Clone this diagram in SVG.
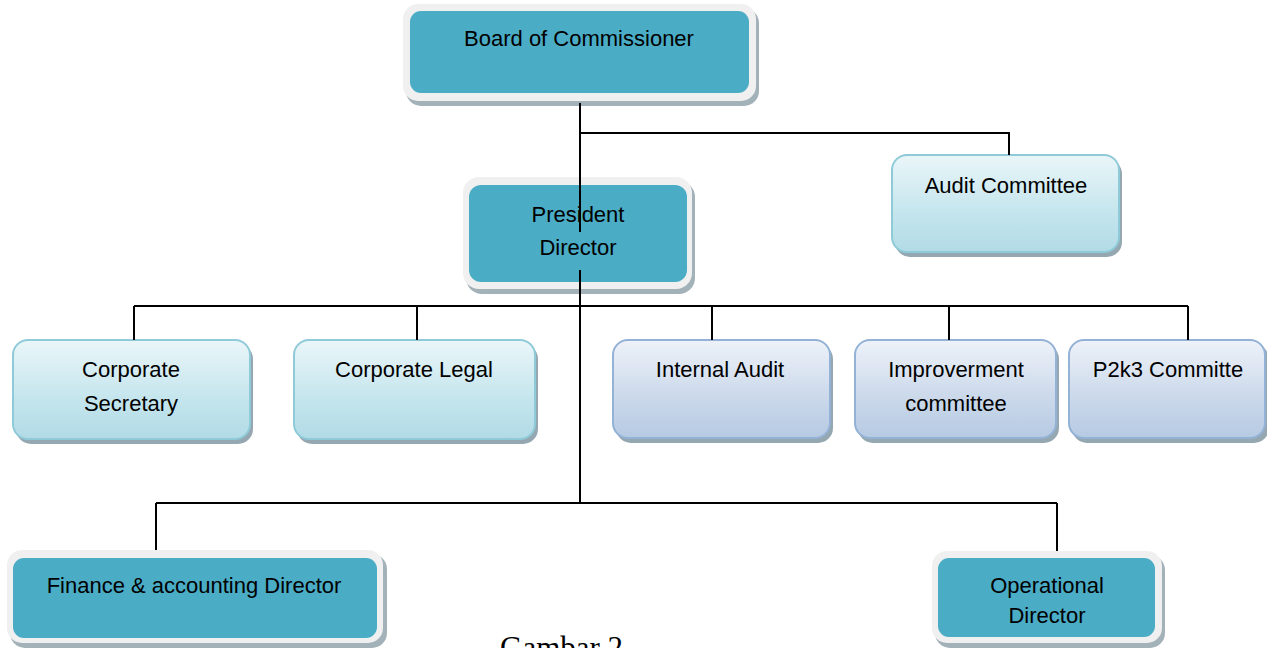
<svg xmlns="http://www.w3.org/2000/svg" width="1267" height="648" viewBox="0 0 1267 648">
<defs>
<linearGradient id="gAqua" x1="0" y1="0" x2="0" y2="1">
<stop offset="0" stop-color="#eaf6f9"/>
<stop offset="0.6" stop-color="#c4e5ed"/>
<stop offset="1" stop-color="#b2dbe6"/>
</linearGradient>
<linearGradient id="gBlue" x1="0" y1="0" x2="0" y2="1">
<stop offset="0" stop-color="#eef2f9"/>
<stop offset="0.6" stop-color="#cad8ea"/>
<stop offset="1" stop-color="#b6cae3"/>
</linearGradient>
</defs>
<style>
.shadow{fill:#a3b1b8}
.frame{fill:#f0f0f0}
.teal{fill:#4bacc6}
.aqua{fill:url(#gAqua);stroke:#8fcad9;stroke-width:2}
.blue{fill:url(#gBlue);stroke:#94b2d6;stroke-width:2}
.lshadow{fill:#95a7b0}
.t{font-family:"Liberation Sans",Arial,sans-serif;font-size:22px;fill:#000;text-anchor:middle}
.conn{fill:none;stroke:#000;stroke-width:2}
</style>
<rect width="1267" height="648" fill="#fff"/>

<g id="board">
<rect class="shadow" x="406" y="8" width="353" height="98" rx="15"/>
<rect class="frame" x="403" y="4" width="353" height="97" rx="15"/>
<rect class="teal" x="410" y="11" width="339" height="82" rx="11"/>
<text class="t" x="579" y="46">Board of Commissioner</text>
</g>

<g id="president">
<rect class="shadow" x="466" y="181" width="229" height="113" rx="16"/>
<rect class="frame" x="463" y="177" width="229" height="112" rx="16"/>
<rect class="teal" x="469" y="185" width="218" height="97" rx="12"/>
<text class="t" x="578" y="222">President</text>
<text class="t" x="578" y="255">Director</text>
</g>

<g id="audit-committee">
<rect class="lshadow" x="895" y="159" width="227" height="98" rx="15"/>
<rect class="aqua" x="892" y="155" width="227" height="97" rx="15"/>
<text class="t" x="1006" y="193">Audit Committee</text>
</g>

<g id="corporate-secretary">
<rect class="lshadow" x="16" y="344" width="237" height="100" rx="15"/>
<rect class="aqua" x="13" y="340" width="237" height="99" rx="15"/>
<text class="t" x="131" y="377">Corporate</text>
<text class="t" x="131" y="411">Secretary</text>
</g>

<g id="corporate-legal">
<rect class="lshadow" x="297" y="344" width="241" height="100" rx="15"/>
<rect class="aqua" x="294" y="340" width="241" height="99" rx="15"/>
<text class="t" x="414" y="377">Corporate Legal</text>
</g>

<g id="internal-audit">
<rect class="lshadow" x="616" y="344" width="217" height="99" rx="15"/>
<rect class="blue" x="613" y="340" width="217" height="98" rx="15"/>
<text class="t" x="720" y="377">Internal Audit</text>
</g>

<g id="improverment-committee">
<rect class="lshadow" x="858" y="344" width="201" height="99" rx="15"/>
<rect class="blue" x="855" y="340" width="201" height="98" rx="15"/>
<text class="t" x="956" y="377">Improverment</text>
<text class="t" x="956" y="411">committee</text>
</g>

<g id="p2k3-committe">
<rect class="lshadow" x="1072" y="344" width="197" height="99" rx="15"/>
<rect class="blue" x="1069" y="340" width="196" height="98" rx="15"/>
<text class="t" x="1168" y="377">P2k3 Committe</text>
</g>

<g id="finance-director">
<rect class="shadow" x="10" y="554" width="377" height="94" rx="15"/>
<rect class="frame" x="7" y="550" width="376" height="93" rx="15"/>
<rect class="teal" x="13" y="558" width="364" height="80" rx="11"/>
<text class="t" x="194" y="593">Finance &amp; accounting Director</text>
</g>

<g id="operational-director">
<rect class="shadow" x="935" y="555" width="230" height="93" rx="15"/>
<rect class="frame" x="932" y="551" width="230" height="92" rx="15"/>
<rect class="teal" x="938" y="558" width="217" height="79" rx="11"/>
<text class="t" x="1047" y="593">Operational</text>
<text class="t" x="1047" y="623">Director</text>
</g>

<g id="connectors">
<path class="conn" d="M580,103 V232"/>
<path class="conn" d="M580,133 H1009 V155"/>
<path class="conn" d="M580,270 V503"/>
<path class="conn" d="M134,306 H1188"/>
<path class="conn" d="M134,306 V340 M417,306 V340 M712,306 V340 M949,306 V340 M1188,306 V340"/>
<path class="conn" d="M156,503 H1057 M156,503 V550 M1057,503 V551"/>
</g>

<text id="caption" x="500" y="658" font-family="'Liberation Serif','Times New Roman',serif" font-size="31" fill="#000">Gambar 2</text>
</svg>
